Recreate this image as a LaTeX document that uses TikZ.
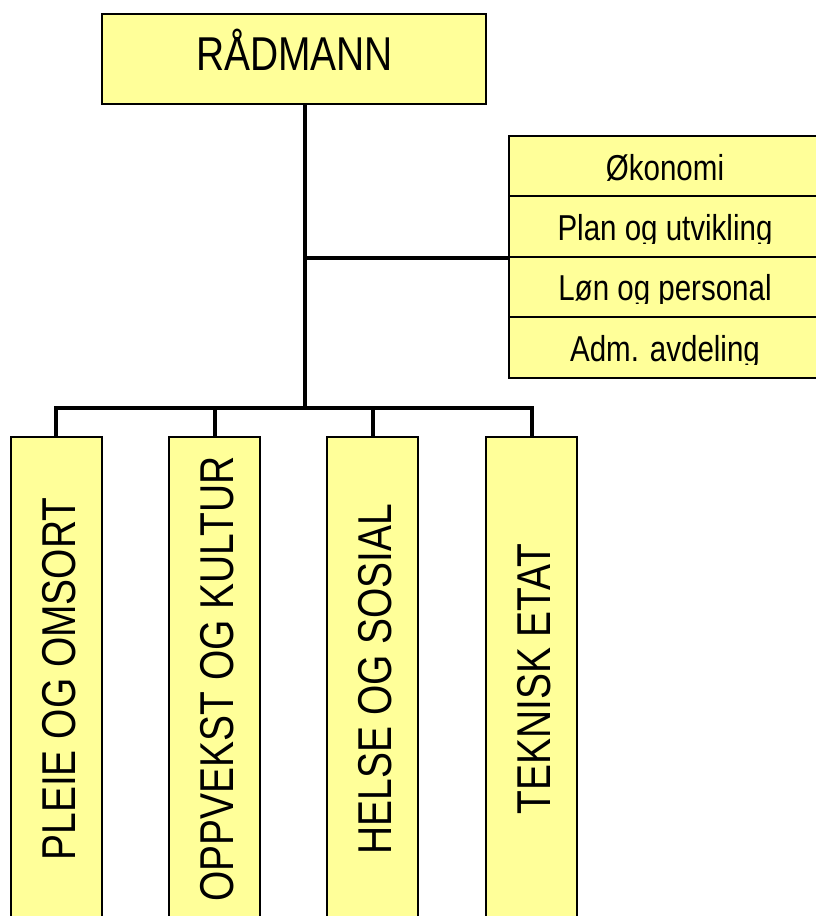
\documentclass[tikz,border=0pt]{standalone}
\usepackage{fontspec}
\setmainfont{Liberation Sans}[FakeStretch=0.82]
\definecolor{boxyellow}{HTML}{FFFF99}
\begin{document}
\begin{tikzpicture}[x=1pt,y=-1pt,
  orgbox/.style={draw=black, line width=2pt, fill=boxyellow, rectangle, inner sep=0pt},
  rowbox/.style={orgbox, minimum width=314pt, minimum height=60.5pt},
  unitbox/.style={orgbox, minimum width=91pt, minimum height=484pt},
  bigtext/.style={inner sep=0pt, font=\fontsize{47.5}{56}\selectfont},
  unittext/.style={bigtext, rotate=90},
  rowtext/.style={inner sep=0pt, anchor=base, font=\fontsize{36}{43}\selectfont},
  link/.style={line width=4pt, line join=miter}]
\path[use as bounding box, clip] (0,0) rectangle (816,916);

% head of administration
\node[orgbox, minimum width=384pt, minimum height=90pt] (rad) at (294,59) {};
\node[bigtext, anchor=base] (radtext) at (294.5,70) {RÅDMANN};

% staff units stacked on the right
\node[rowbox] (okon) at (666,165.75) {};
\node[rowbox] (plan) at (666,226.25) {};
\node[rowbox] (lon)  at (666,286.75) {};
\node[rowbox] (adm)  at (666,347.25) {};

\begin{scope}
  \clip (okon.north west) rectangle (823,183);
  \node[rowtext] (okontext) at (665,180) {Økonomi};
\end{scope}
\begin{scope}
  \clip (plan.north west) rectangle (823,243);
  \node[rowtext] (plantext) at (665,240) {Plan og utvikling};
\end{scope}
\begin{scope}
  \clip (lon.north west) rectangle (823,303);
  \node[rowtext] (lontext) at (665,300) {Løn og personal};
\end{scope}
\begin{scope}
  \clip (adm.north west) rectangle (823,364);
  \node[rowtext] (admtext) at (665,361) {Adm. avdeling};
\end{scope}

% service departments
\node[unitbox] (pleie) at (56,679) {};
\node[unitbox] (oppv)  at (214.5,679) {};
\node[unitbox] (helse) at (372.5,679) {};
\node[unitbox] (tekn)  at (531.5,679) {};

\node[unittext] (pleietext) at (59,679) {PLEIE OG OMSORT};
\node[unittext] (oppvtext)  at (217.5,679) {OPPVEKST OG KULTUR};
\node[unittext] (helsetext) at (375.5,679) {HELSE OG SOSIAL};
\node[unittext] (tekntext)  at (534.5,679) {TEKNISK ETAT};

% connectors
\coordinate (bus) at (305,408);
\draw[link] (rad.south -| bus) -- (bus);
\draw[link] (bus |- plan.south west) -- (plan.south west);
\draw[link] (pleie.north) |- (bus) -| (tekn.north);
\draw[link] (bus) -| (oppv.north);
\draw[link] (bus) -| (helse.north);
\end{tikzpicture}
\end{document}
